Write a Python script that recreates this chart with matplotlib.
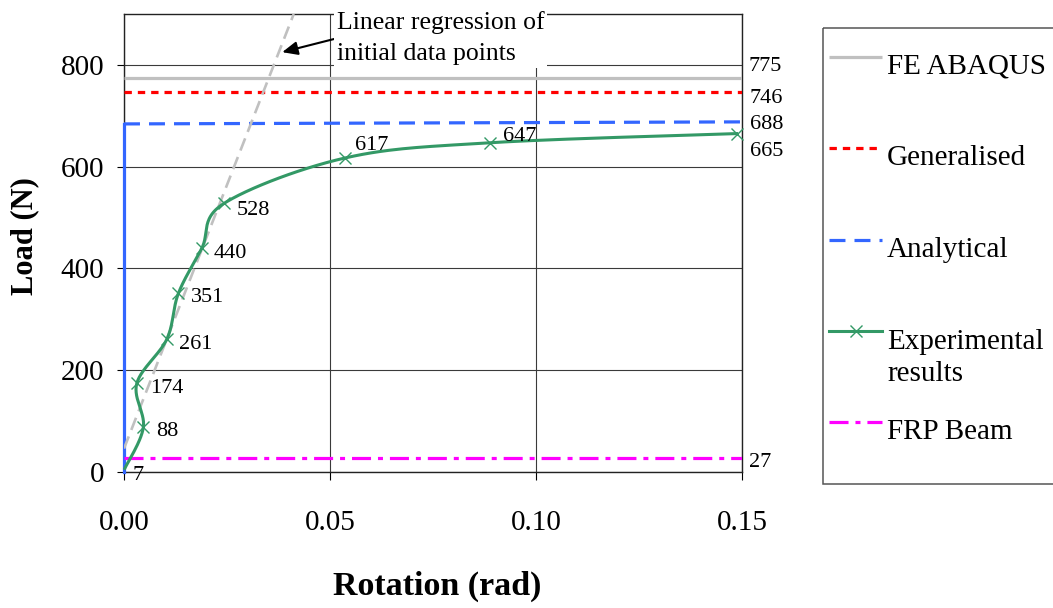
import numpy as np
import matplotlib
matplotlib.use("Agg")
import matplotlib.pyplot as plt
from matplotlib.lines import Line2D
from matplotlib.patches import Rectangle

plt.rcParams['font.family'] = ['Liberation Serif', 'DejaVu Serif']
plt.rcParams['lines.scale_dashes'] = False

# ---- data -------------------------------------------------------------
exp_rotation = [0.0002, 0.0047, 0.0031, 0.0104, 0.0132, 0.0189, 0.0243, 0.0536, 0.0888, 0.1487]
exp_load = [7, 88, 174, 261, 351, 440, 528, 617, 647, 665]

fe_rotation = [0.0, 0.15]
fe_load = [775, 775]
gen_rotation = [0.0, 0.15]
gen_load = [746, 746]
ana_rotation = [0.0, 0.0, 0.15]
ana_load = [0, 684, 688]
frp_rotation = [0.0, 0.15]
frp_load = [27, 27]
reg_rotation = [0.0, 0.0412]
reg_load = [46, 900]

x_ticks = [0.00, 0.05, 0.10, 0.15]
y_ticks = [0, 200, 400, 600, 800]
legend_labels = ['FE ABAQUS', 'Generalised', 'Analytical', 'Experimental\nresults', 'FRP Beam']

# ---- styles -----------------------------------------------------------
C_FE, C_GEN, C_ANA, C_EXP, C_FRP = '#c0c0c0', '#ff0000', '#3366ff', '#339966', '#ff00ff'
LW = 2.3
GEN_DASH = (0, (5.3, 4.3))
ANA_DASH = (0, (11.5, 6.5))
FRP_DASH = (0, (13.7, 5.0, 3.6, 5.0))
REG_DASH = (0, (9.4, 5.0))

W, H = 1053, 608
fig = plt.figure(figsize=(W / 100, H / 100), dpi=100)
ax = fig.add_axes([124 / W, (H - 472) / H, 618 / W, 458 / H])
ax.set_xlim(0, 0.15)
ax.set_ylim(0, 900)


def smooth(ax, xs, ys, samples=30):
    """Bezier smoothing through the points, computed in display space."""
    pts = ax.transData.transform(np.column_stack([xs, ys]))
    n = len(pts)
    t = np.linspace(0, 1, samples)[:, None]
    segs = []
    for i in range(n - 1):
        p0, p1, p2, p3 = pts[max(i - 1, 0)], pts[i], pts[i + 1], pts[min(i + 2, n - 1)]
        c1 = p1 + (p2 - p0) / 6
        c2 = p2 - (p3 - p1) / 6
        seg = (1 - t) ** 3 * p1 + 3 * (1 - t) ** 2 * t * c1 + 3 * (1 - t) * t ** 2 * c2 + t ** 3 * p2
        segs.append(seg if i == 0 else seg[1:])
    return ax.transData.inverted().transform(np.vstack(segs)).T


# gridlines and spines
ax.grid(True, color='#3a3a3a', linewidth=0.8)
ax.set_axisbelow('line')
for s in ['left', 'bottom', 'top', 'right']:
    ax.spines[s].set_color('#222222')
    ax.spines[s].set_linewidth(1.0)

# series
ax.plot(fe_rotation, fe_load, color=C_FE, lw=LW, solid_capstyle='butt', zorder=3)
ax.plot(gen_rotation, gen_load, color=C_GEN, lw=LW, linestyle=GEN_DASH, zorder=3)
ax.plot(ana_rotation[:2], ana_load[:2], color=C_ANA, lw=LW, zorder=3, clip_on=False)
ax.plot(ana_rotation[1:], ana_load[1:], color=C_ANA, lw=LW, linestyle=ANA_DASH, zorder=3)
ax.plot(frp_rotation, frp_load, color=C_FRP, lw=LW, linestyle=FRP_DASH, zorder=3)
ax.plot(reg_rotation, reg_load, color=C_FE, lw=1.9, linestyle=REG_DASH, zorder=3)
sx, sy = smooth(ax, exp_rotation, exp_load)
ax.plot(sx, sy, color=C_EXP, lw=2.2, zorder=4, clip_on=False)
ax.plot(exp_rotation[1:], exp_load[1:], linestyle='none', marker='x', ms=9, mew=1.0,
        color=C_EXP, zorder=4, clip_on=False)

# value labels on the experimental points (offsets in pixels to the baseline)
exp_offsets = [(8, -12), (13, -9), (13, -10), (12, -10), (13, -9), (12, -10), (13, -12),
               (10, 8), (13, 2), (13, -22)]
for x, y, off in zip(exp_rotation, exp_load, exp_offsets):
    ax.annotate(f'{y}', (x, y), xytext=off, textcoords='offset pixels', fontsize=16,
                ha='left', va='baseline', zorder=6, annotation_clip=False)

# end-of-series value labels
for vals, off in [(fe_load, (7, 6.5)), (gen_load, (8, -11)), (ana_load, (8, -7.5)),
                  (frp_load, (7, -8.5))]:
    ax.annotate(f'{vals[-1]}', (0.15, vals[-1]), xytext=off, textcoords='offset pixels',
                fontsize=16, ha='left', va='baseline', annotation_clip=False)

# annotation of the regression line (baseline refers to the last text line)
ax.annotate('Linear regression of\ninitial data points', xy=(0.0384, 825),
            xytext=(337, H - 60), textcoords='figure pixels', fontsize=18.5,
            ha='left', va='baseline', linespacing=1.5, zorder=5,
            bbox=dict(boxstyle='square,pad=0.1', fc='white', ec='none'),
            arrowprops=dict(arrowstyle='-|>,head_length=0.5,head_width=0.22',
                            color='black', lw=1.5, shrinkA=0, shrinkB=0,
                            relpos=(0, 0.5)))

# axes, ticks, labels
ax.set_xticks(x_ticks)
ax.set_xticklabels([f'{v:.2f}' for v in x_ticks])
ax.set_yticks(y_ticks)
ax.tick_params(axis='x', direction='out', length=5.8, width=0.8, pad=21.5, labelsize=21)
ax.tick_params(axis='y', direction='out', length=5, width=0.8, pad=9.4, labelsize=21)
ax.set_xlabel('Rotation (rad)', fontsize=24.5, fontweight='bold')
ax.set_ylabel('Load (N)', fontsize=22, fontweight='bold')
ax.xaxis.set_label_coords(0.506, -0.2146)
ax.yaxis.set_label_coords(-0.1367, 0.515)

# legend panel
lax = fig.add_axes([0, 0, 1, 1])
lax.set_xlim(0, W)
lax.set_ylim(H, 0)
lax.axis('off')
lax.add_patch(Rectangle((823, 28), 260, 456, fill=False, ec='#555555', lw=1.1))
handles = [
    dict(color=C_FE, lw=LW, solid_capstyle='butt'),
    dict(color=C_GEN, lw=LW, linestyle=GEN_DASH),
    dict(color=C_ANA, lw=LW, linestyle=ANA_DASH),
    dict(color=C_EXP, lw=2.2),
    dict(color=C_FRP, lw=LW, linestyle=FRP_DASH),
]
row_y = [57, 148, 240, 331, 422]
for y, style, label in zip(row_y, handles, legend_labels):
    lax.add_line(Line2D([829, 882], [y, y], **style))
    extra = 33 * label.count('\n')
    lax.text(887, y + 17 + extra, label, fontsize=21, ha='left', va='baseline',
             linespacing=1.32)
lax.add_line(Line2D([855.5], [row_y[3]], linestyle='none', marker='x', ms=9, mew=1.0, color=C_EXP))

fig.savefig('out.png', dpi=100)
